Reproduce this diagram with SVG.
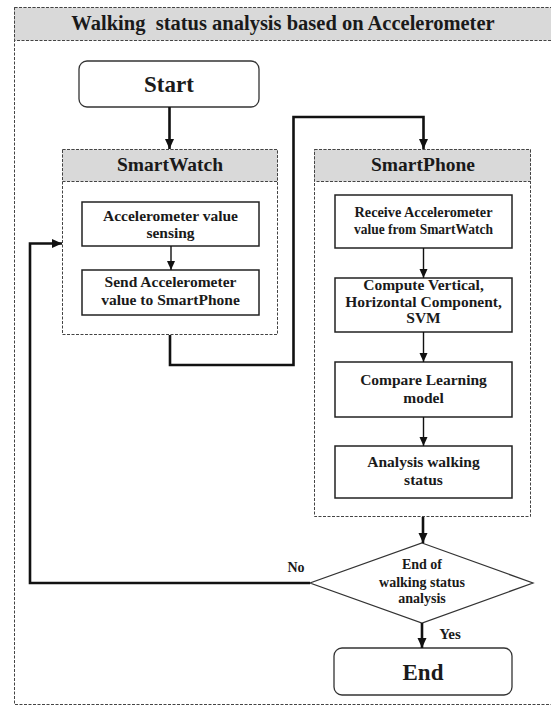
<svg xmlns="http://www.w3.org/2000/svg" width="551" height="706" viewBox="0 0 551 706">
<style>
text{font-family:'Liberation Serif','Tinos','DejaVu Serif',serif;font-weight:700;fill:#1a1a1a;text-anchor:middle}
.dash{fill:#fff;stroke:#444;stroke-width:1;stroke-dasharray:3 1.5}
.hdr{fill:#d9d9d9;stroke:#444;stroke-width:1;stroke-dasharray:3 1.5}
.box{fill:#fff;stroke:#222;stroke-width:1.5}
.term{fill:#fff;stroke:#333;stroke-width:1.3}
.thick{fill:none;stroke:#111;stroke-width:2.6}
.thin{fill:none;stroke:#111;stroke-width:1.4}
.t16{font-size:15.5px}
.t14{font-size:14px}
</style>
<defs>
<marker id="ah" markerUnits="userSpaceOnUse" markerWidth="12" markerHeight="12" viewBox="0 0 12 12" refX="11" refY="6" orient="auto">
<path d="M1,1.5 L11,6 L1,10.5 Z" fill="#111"/>
</marker>
<marker id="ahs" markerUnits="userSpaceOnUse" markerWidth="12" markerHeight="12" viewBox="0 0 12 12" refX="11" refY="6" orient="auto">
<path d="M2,2 L11,6 L2,10 Z" fill="#111"/>
</marker>
</defs>
<rect width="551" height="706" fill="#fff"/>
<g id="frame">
<rect class="dash" x="14.5" y="7.5" width="560" height="697" fill="none"/>
<rect class="hdr" x="14.5" y="7.5" width="560" height="33"/>
<text x="283" y="30" style="font-size:20.5px" xml:space="preserve">Walking  status analysis based on Accelerometer</text>
</g>
<g id="start">
<rect class="term" x="79" y="61" width="180" height="46" rx="8"/>
<text x="169" y="92" style="font-size:23px">Start</text>
</g>
<g id="smartwatch">
<rect class="dash" x="62.5" y="149.5" width="215" height="185"/>
<rect class="hdr" x="62.5" y="149.5" width="215" height="32"/>
<text x="170" y="171" style="font-size:19.5px">SmartWatch</text>
</g>
<g id="sw1">
<rect class="box" x="82" y="202" width="177" height="44"/>
<text class="t16" x="170.5" y="221">Accelerometer value</text>
<text class="t16" x="170.5" y="238">sensing</text>
</g>
<g id="sw2">
<rect class="box" x="82" y="270" width="177" height="45"/>
<text class="t16" x="170.5" y="287">Send Accelerometer</text>
<text class="t16" x="170.5" y="305">value to SmartPhone</text>
</g>
<g id="smartphone">
<rect class="dash" x="314.5" y="149.5" width="216" height="367"/>
<rect class="hdr" x="314.5" y="149.5" width="216" height="32"/>
<text x="423" y="171" style="font-size:19.5px">SmartPhone</text>
</g>
<g id="sp1">
<rect class="box" x="335" y="195" width="177" height="53"/>
<text class="t16" x="423.5" y="217" textLength="138" lengthAdjust="spacingAndGlyphs">Receive Accelerometer</text>
<text class="t16" x="423.5" y="234" textLength="139" lengthAdjust="spacingAndGlyphs">value from SmartWatch</text>
</g>
<g id="sp2">
<rect class="box" x="335" y="278" width="177" height="54"/>
<text class="t16" x="423.5" y="290">Compute Vertical,</text>
<text class="t16" x="423.5" y="307">Horizontal Component,</text>
<text class="t16" x="423.5" y="323">SVM</text>
</g>
<g id="sp3">
<rect class="box" x="335" y="362" width="177" height="55"/>
<text class="t16" x="423.5" y="385">Compare Learning</text>
<text class="t16" x="423.5" y="403">model</text>
</g>
<g id="sp4">
<rect class="box" x="335" y="446" width="177" height="52"/>
<text class="t16" x="423.5" y="467">Analysis walking</text>
<text class="t16" x="423.5" y="485">status</text>
</g>
<g id="decision">
<polygon points="422,543 533,583 422,623 310,583" fill="#fff" stroke="#333" stroke-width="1.2"/>
<text class="t14" x="422" y="569">End of</text>
<text class="t14" x="422" y="587">walking status</text>
<text class="t14" x="422" y="603">analysis</text>
</g>
<g id="end">
<rect class="term" x="334" y="648" width="178" height="47" rx="8"/>
<text x="423" y="680" style="font-size:23px">End</text>
</g>
<g id="connectors">
<path class="thick" d="M169.5,107 V149" marker-end="url(#ah)"/>
<path class="thick" d="M170,335 V365 H293.5 V117 H423.5 V149" marker-end="url(#ah)"/>
<path class="thin" d="M171,246 V270" marker-end="url(#ahs)"/>
<path class="thin" d="M423.5,248 V278" marker-end="url(#ahs)"/>
<path class="thin" d="M423.5,332 V362" marker-end="url(#ahs)"/>
<path class="thin" d="M423.5,417 V446" marker-end="url(#ahs)"/>
<path class="thick" d="M423,517 V543" marker-end="url(#ah)"/>
<path class="thick" d="M310,583 H30 V243.5 H62" marker-end="url(#ah)"/>
<path class="thick" d="M422,623 V648" marker-end="url(#ah)"/>
<text x="296" y="572" style="font-size:14px">No</text>
<text x="450" y="639" style="font-size:15px">Yes</text>
</g>
</svg>
